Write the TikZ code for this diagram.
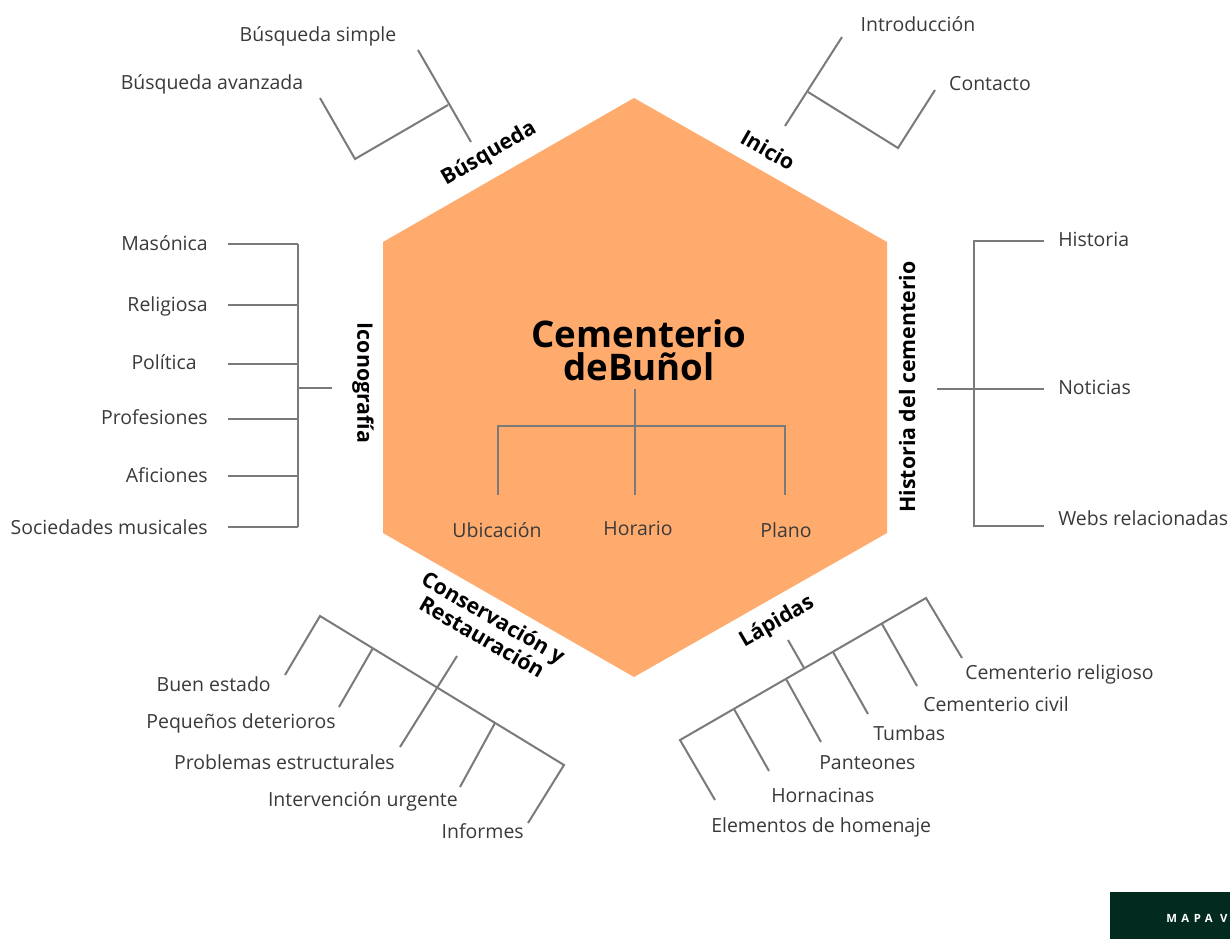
\documentclass[tikz,border=0pt]{standalone}
\usepackage{fontspec}
\setmainfont{Open Sans}
\definecolor{hexfill}{HTML}{FFAB6E}
\definecolor{linegray}{HTML}{7A7A7A}
\definecolor{txtgray}{HTML}{3A3A3A}
\definecolor{badgegreen}{HTML}{032A1E}
\tikzset{
  br/.style={draw=linegray, line width=1.5pt, line join=miter},
  lbl/.style={font=\fontsize{14.6}{17}\selectfont, text=txtgray, inner sep=0pt},
  hd/.style={font=\fontsize{16}{17}\selectfont\bfseries, text=black, inner sep=0pt},
}
\begin{document}
\begin{tikzpicture}[x=0.75pt,y=-0.75pt]
\useasboundingbox (0,0) rectangle (1230,938);
\fill[white] (0,0) rectangle (1230,938);

% hexagon
\fill[hexfill] (383,242) -- (634,98) -- (887,242) -- (887,533) -- (634,677) -- (383,533) -- cycle;

% title and centre tree
\node[font=\fontsize{27.5}{24.5}\selectfont\bfseries, align=center, inner sep=0pt] (title) at (639,350) {Cementerio\\deBuñol};
\coordinate (c0) at (635,389);
\coordinate (c1) at (635,426);
\coordinate (cl) at (498,426);
\coordinate (cr) at (785,426);
\coordinate (clb) at (498,495);
\coordinate (cmb) at (635,495);
\coordinate (crb) at (785,495);
\draw[br] (c0) -- (cmb);
\draw[br] (clb) -- (cl) -- (cr) -- (crb);
\node[lbl] (ubic) at (497,530) {Ubicación};
\node[lbl] (hora) at (638,528) {Horario};
\node[lbl] (plano) at (786,530) {Plano};

% Busqueda
\node[hd, rotate=30] (busq) at (489,154) {Búsqueda};
\coordinate (b1) at (418,50);
\coordinate (b2) at (471,142);
\coordinate (bj) at (448,105);
\coordinate (bc) at (355,159);
\coordinate (bl) at (320,98);
\draw[br] (b1) -- (b2);
\draw[br] (bl) -- (bc) -- (bj);
\node[lbl] (bs) at (318,36) {Búsqueda simple};
\node[lbl] (ba) at (212,84) {Búsqueda avanzada};

% Inicio
\node[hd, rotate=-30] (ini) at (768,150) {Inicio};
\coordinate (i1) at (842,37);
\coordinate (i2) at (785,126);
\coordinate (ij) at (808,92);
\coordinate (ic) at (898,148);
\coordinate (ir) at (935,90);
\draw[br] (i1) -- (i2);
\draw[br] (ij) -- (ic) -- (ir);
\node[lbl] (intro) at (918,24) {Introducción};
\node[lbl] (cont) at (990,84) {Contacto};

% Iconografia
\node[hd, rotate=-90] (icono) at (363,383) {Iconografía};
\coordinate (k1) at (298,244);
\coordinate (k6) at (298,527);
\draw[br] (k1) -- (k6);
\draw[br] (298,388) -- (332,388);
\foreach \yy in {244,305,364,419,476,527} {\draw[br] (228,\yy) -- (298,\yy);}
\node[lbl, anchor=mid east] (m1) at (208,247) {Masónica};
\node[lbl, anchor=mid east] (m2) at (208,308) {Religiosa};
\node[lbl, anchor=mid east] (m3) at (197,366) {Política};
\node[lbl, anchor=mid east] (m4) at (208,421) {Profesiones};
\node[lbl, anchor=mid east] (m5) at (208,479) {Aficiones};
\node[lbl, anchor=mid east] (m6) at (208,531) {Sociedades musicales};

% Historia del cementerio
\node[hd, rotate=90] (hist) at (907,387) {Historia del cementerio};
\coordinate (h1) at (974,241);
\coordinate (h3) at (974,526);
\draw[br] (1044,241) -- (h1) -- (h3) -- (1044,526);
\draw[br] (937,389) -- (1044,389);
\node[lbl, anchor=mid west] (n1) at (1058,243) {Historia};
\node[lbl, anchor=mid west] (n2) at (1058,391) {Noticias};
\node[lbl, anchor=mid west] (n3) at (1058,522) {Webs relacionadas};

% Conservacion y Restauracion
\node[hd, rotate=-30, align=center] (cons) at (488,627) {Conservación y\\Restauración};
\coordinate (s0) at (320,616);
\coordinate (s1) at (564,765);
\coordinate (s2) at (528,823);
\draw[br] (285,675) -- (s0) -- (s1) -- (s2);
\draw[br] (373,648) -- (339,707);
\draw[br] (457,656) -- (400,747);
\draw[br] (495,723) -- (460,787);
\node[lbl, anchor=mid east] (e1) at (271,688) {Buen estado};
\node[lbl, anchor=mid east] (e2) at (336,725) {Pequeños deterioros};
\node[lbl, anchor=mid east] (e3) at (395,766) {Problemas estructurales};
\node[lbl, anchor=mid east] (e4) at (458,803) {Intervención urgente};
\node[lbl, anchor=mid east] (e5) at (524,835) {Informes};

% Lapidas
\node[hd, rotate=30] (lap) at (777,622) {Lápidas};
\coordinate (l0) at (680,740);
\coordinate (l1) at (926,598);
\draw[br] (715,800) -- (l0) -- (l1) -- (962,658);
\draw[br] (788,640) -- (804,668);
\draw[br] (734,709) -- (769,771);
\draw[br] (786,679) -- (821,742);
\draw[br] (833,652) -- (868,714);
\draw[br] (882,624) -- (917,686);
\node[lbl, anchor=mid west] (t1) at (965,676) {Cementerio religioso};
\node[lbl, anchor=mid west] (t2) at (923,708) {Cementerio civil};
\node[lbl, anchor=mid west] (t3) at (873,737) {Tumbas};
\node[lbl, anchor=mid west] (t4) at (819,766) {Panteones};
\node[lbl, anchor=mid west] (t5) at (771,799) {Hornacinas};
\node[lbl, anchor=mid west] (t6) at (711,829) {Elementos de homenaje};

% badge
\begin{scope}
\clip (0,0) rectangle (1230,938);
\fill[badgegreen] (1110,892) rectangle (1240,940);
\node[anchor=west, inner sep=0pt, text=white, font=\fontsize{8.5}{9}\selectfont\bfseries\addfontfeature{LetterSpace=40}] (badge) at (1166,918) {MAPA V};
\end{scope}
\end{tikzpicture}
\end{document}
